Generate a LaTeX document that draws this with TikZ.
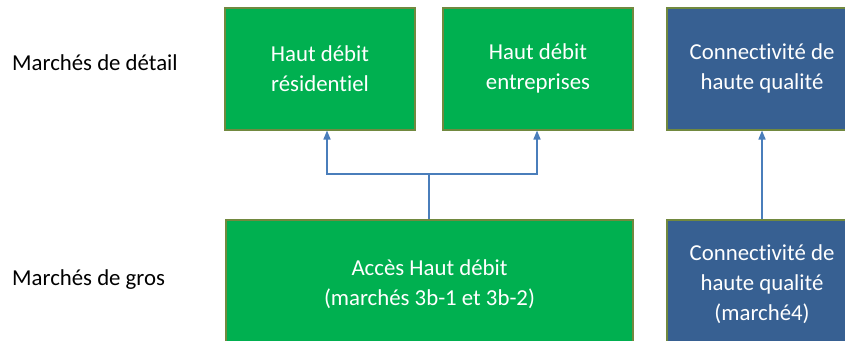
\documentclass[tikz,border=0pt]{standalone}
\usepackage{fontspec}
\setmainfont{Carlito}[Ligatures=TeX,RawFeature={-liga;-clig;-calt;-dlig}]
\usetikzlibrary{arrows.meta}
\definecolor{boxgreen}{HTML}{00B050}
\definecolor{boxblue}{HTML}{376092}
\definecolor{boxedge}{HTML}{71893F}
\definecolor{linkblue}{HTML}{4A7EBB}
\tikzset{
  mkt/.style={draw=boxedge, line width=2pt, text=white, align=center,
    font=\fontsize{22.8}{30}\selectfont, inner sep=0pt},
  greenbox/.style={mkt, fill=boxgreen},
  bluebox/.style={mkt, fill=boxblue},
  rowlabel/.style={anchor=west, inner sep=0pt, font=\fontsize{22.8}{30}\selectfont},
  link/.style={draw=linkblue, line width=1.5pt},
  linkarrow/.style={link, -{Triangle[length=9pt,width=7pt]}}
}
\begin{document}
\begin{tikzpicture}[x=1pt,y=-1pt]
\useasboundingbox (0,0) rectangle (845,340);
\clip (0,0) rectangle (845,340);

% row labels
\node[rowlabel] (retail) at (12,63) {Marchés de détail};
\node[rowlabel] (wholesale) at (12,280) {Marchés de gros};

% retail markets
\node[greenbox, minimum width=190, minimum height=122] (res) at (320,68.5)
  {Haut débit\\résidentiel};
\node[greenbox, minimum width=190, minimum height=122] (ent) at (538,68.5)
  {Haut débit\\entreprises};
\node[bluebox, minimum width=190, minimum height=122] (hq) at (762,68.5)
  {Connectivité de\\haute qualité};

% wholesale markets
\node[greenbox, minimum width=407, minimum height=128] (acc) at (429.5,284)
  {Accès Haut débit\\(marchés 3b-1 et 3b-2)};
\node[bluebox, minimum width=190, minimum height=128] (hqw) at (762,284)
  {Connectivité de\\haute qualité\\(marché4)};

% connectors
\coordinate (fork) at (429,174);
\coordinate (forkl) at (327,174);
\coordinate (forkr) at (537,174);
\draw[link] (acc.north -| fork) -- (fork);
\draw[linkarrow] (fork) -- (forkl) -- (forkl |- res.south);
\draw[linkarrow] (fork) -- (forkr) -- (forkr |- ent.south);
\draw[linkarrow] (hqw.north) -- (hq.south);
\end{tikzpicture}
\end{document}
